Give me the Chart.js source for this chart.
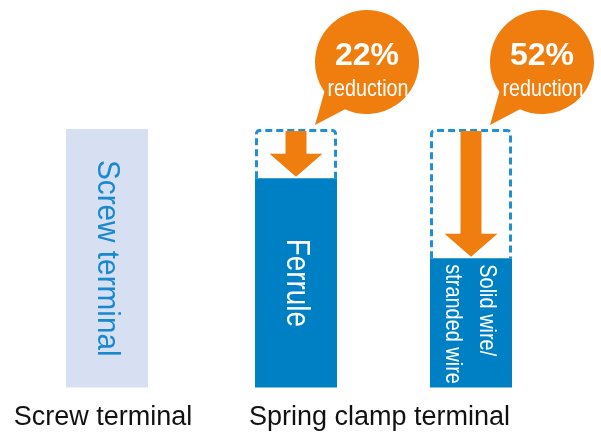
<!DOCTYPE html>
<html>
<head>
<meta charset="utf-8">
<script src="https://cdn.jsdelivr.net/npm/chart.js@4"></script>
<style>
  html, body { margin: 0; padding: 0; background: #fff; }
  canvas { display: block; }
</style>
</head>
<body>
<canvas id="terminalChart" width="601" height="433"></canvas>
<script>
var categories = ['Screw terminal', 'Spring clamp terminal'];
var barNames = ['Screw terminal', 'Ferrule', 'Solid wire/stranded wire'];
var screwValues = [100, null];
var ferruleValues = [null, 81];
var solidValues = [null, 50];
var reductionLabels = ['22%', '52%'];
var barTexts = [['Screw terminal'], ['Ferrule'], ['Solid wire/', 'stranded wire']];

var orange = '#f07e0e';
var regular = '"Liberation Sans", Arial, sans-serif';

// condensed text: no narrow font installed, so squeeze the regular one
function squeezedText(ctx, txt, x, y, sx) {
  ctx.save();
  ctx.translate(x, y);
  ctx.scale(sx, 1);
  ctx.fillText(txt, 0, 0);
  ctx.restore();
}

// open box (no bottom edge) with rounded top corners
function dashedBox(ctx, l, t, r, b, rad) {
  ctx.beginPath();
  ctx.moveTo(l, b);
  ctx.lineTo(l, t + rad);
  ctx.arcTo(l, t, l + rad, t, rad);
  ctx.lineTo(r - rad, t);
  ctx.arcTo(r, t, r, t + rad, rad);
  ctx.lineTo(r, b);
  ctx.stroke();
}

function arrowDown(ctx, cx, y0, tipY) {
  var shaft = 21, head = 53, headH = 23;
  ctx.beginPath();
  ctx.moveTo(cx - shaft / 2, y0);
  ctx.lineTo(cx + shaft / 2, y0);
  ctx.lineTo(cx + shaft / 2, tipY - headH);
  ctx.lineTo(cx + head / 2, tipY - headH);
  ctx.lineTo(cx, tipY);
  ctx.lineTo(cx - head / 2, tipY - headH);
  ctx.lineTo(cx - shaft / 2, tipY - headH);
  ctx.closePath();
  ctx.fill();
}

var annotate = {
  id: 'annotate',
  afterDatasetsDraw: function (chart) {
    var ctx = chart.ctx;
    var yScale = chart.scales.y;
    var yTop = yScale.getPixelForValue(yScale.max);
    var bars = [
      chart.getDatasetMeta(0).data[0],
      chart.getDatasetMeta(1).data[1],
      chart.getDatasetMeta(2).data[1]
    ];

    ctx.save();
    bars.forEach(function (bar, i) {
      var left = bar.x - bar.width / 2;
      var right = bar.x + bar.width / 2;
      var midY = (bar.y + bar.base) / 2;

      // text inside bars, rotated
      ctx.save();
      ctx.textBaseline = 'middle';
      if (i === 0) {
        ctx.translate(bar.x, midY);
        ctx.rotate(Math.PI / 2);
        ctx.fillStyle = '#1a88cf';
        ctx.font = '32px ' + regular;
        ctx.textAlign = 'center';
        squeezedText(ctx, barTexts[i][0], 0, 0, 0.93);
      } else if (i === 1) {
        ctx.translate(bar.x, midY);
        ctx.rotate(Math.PI / 2);
        ctx.fillStyle = '#fff';
        ctx.font = '34px ' + regular;
        ctx.textAlign = 'center';
        squeezedText(ctx, barTexts[i][0], 0, 0, 0.82);
      } else {
        ctx.translate(bar.x - 1, bar.y + 6);
        ctx.rotate(Math.PI / 2);
        ctx.fillStyle = '#fff';
        ctx.font = '24px ' + regular;
        ctx.textAlign = 'left';
        var lines = barTexts[i];
        var lh = 34;
        lines.forEach(function (txt, k) {
          squeezedText(ctx, txt, 0, (k - (lines.length - 1) / 2) * lh, 0.83);
        });
      }
      ctx.restore();

      if (i === 0) return;

      // dashed outline of the screw terminal size
      ctx.strokeStyle = '#1e90d3';
      ctx.lineWidth = 3;
      ctx.setLineDash([7, 4]);
      dashedBox(ctx, left + 1.5, yTop + 1.5, right - 1.5, bar.y, 3);
      ctx.setLineDash([]);

      // arrow
      ctx.fillStyle = orange;
      arrowDown(ctx, bar.x, yTop + 2, bar.y - 1.5);

      // callout bubble
      var cx = right + 30, cy = yTop - 67, r = 52;
      var a1 = 115 * Math.PI / 180, a2 = 145 * Math.PI / 180;
      ctx.beginPath();
      ctx.arc(cx, cy, r, a2, a1 + Math.PI * 2);
      ctx.lineTo(right - 22, yTop - 4);
      ctx.closePath();
      ctx.fill();

      ctx.fillStyle = '#fff';
      ctx.textAlign = 'center';
      ctx.textBaseline = 'alphabetic';
      ctx.font = 'bold 32px ' + regular;
      ctx.fillText(reductionLabels[i - 1], cx, cy + 3);
      ctx.font = '24px ' + regular;
      squeezedText(ctx, 'reduction', cx + 1, cy + 33.5, 0.82);
    });
    ctx.restore();
  }
};

var ctx = document.getElementById('terminalChart').getContext('2d');
var terminalChart = new Chart(ctx, {
  type: 'bar',
  data: {
    labels: categories,
    datasets: [
      {
        label: barNames[0],
        data: screwValues,
        backgroundColor: '#d7e0f3',
        categoryPercentage: 0.5,
        barPercentage: 0.593
      },
      {
        label: barNames[1],
        data: ferruleValues,
        backgroundColor: '#0080c4',
        categoryPercentage: 1.2658,
        barPercentage: 0.4686
      },
      {
        label: barNames[2],
        data: solidValues,
        backgroundColor: '#0080c4',
        categoryPercentage: 1.2658,
        barPercentage: 0.4686
      }
    ]
  },
  options: {
    responsive: false,
    devicePixelRatio: 1,
    animation: false,
    datasets: {
      bar: { skipNull: true, clip: false, borderWidth: 0 }
    },
    layout: {
      padding: { left: 107, right: 217.5, top: 129, bottom: -15 }
    },
    scales: {
      x: {
        type: 'category',
        offset: false,
        grid: { display: false, drawTicks: false },
        border: { display: false },
        ticks: {
          color: '#111',
          font: { size: 27, family: regular },
          padding: 14,
          labelOffset: -4,
          maxRotation: 0,
          autoSkip: false
        }
      },
      y: {
        display: false,
        min: 0,
        max: 100
      }
    },
    plugins: {
      legend: { display: false },
      tooltip: { enabled: false }
    }
  },
  plugins: [annotate]
});
</script>
</body>
</html>
